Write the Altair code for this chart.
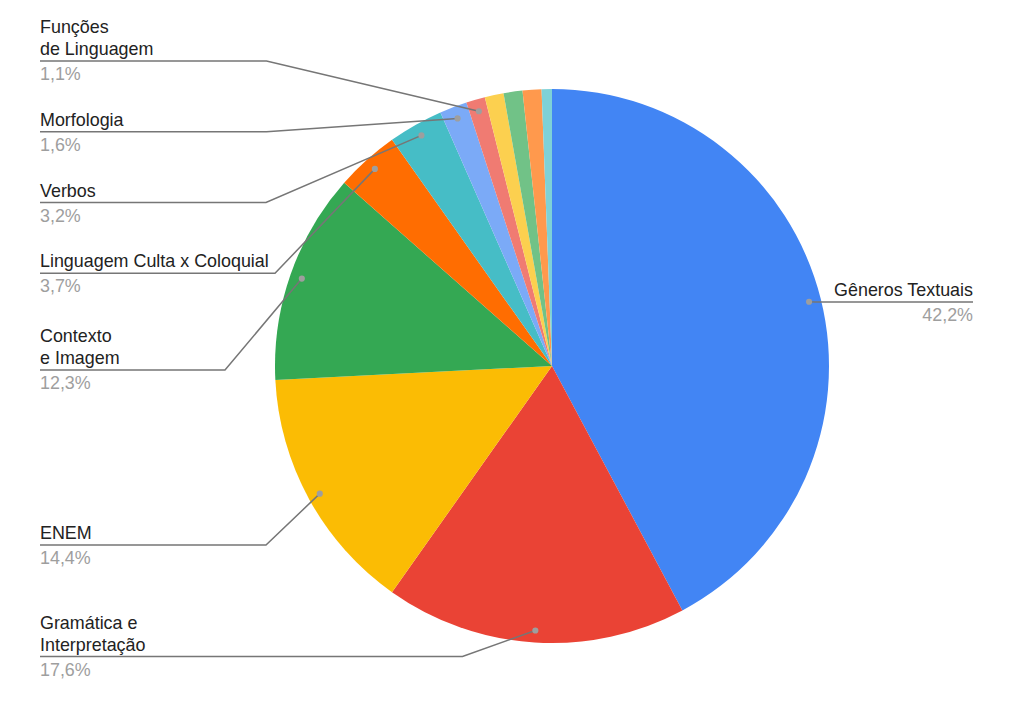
import altair as alt
import pandas as pd
import numpy as np

# ---------------- data ----------------
categories = ["Gêneros Textuais", "Gramática e Interpretação", "ENEM", "Contexto e Imagem",
              "Linguagem Culta x Coloquial", "Verbos", "Morfologia", "Funções de Linguagem",
              "Outros 1", "Outros 2", "Outros 3", "Outros 4"]
values = [42.2, 17.6, 14.4, 12.3, 3.7, 3.2, 1.6, 1.1, 1.1, 1.1, 1.1, 0.6]
colors = ["#4285F4", "#EA4335", "#FBBC04", "#34A853", "#FF6D01", "#46BDC6",
          "#7BAAF7", "#F07B72", "#FCD04F", "#71C287", "#FF994D", "#7ED1D7"]

# labels shown (first 8 slices)
label_lines = [["Gêneros Textuais"], ["Gramática e", "Interpretação"], ["ENEM"],
               ["Contexto", "e Imagem"], ["Linguagem Culta x Coloquial"], ["Verbos"],
               ["Morfologia"], ["Funções", "de Linguagem"]]

# ---------------- layout ----------------
W, H = 1007, 708
CX, CY, R = 552, 366, 277
DOT_R = 265
label_side = ["right", "left", "left", "left", "left", "left", "left", "left"]
line_y = [302, 656.5, 545, 370, 273.3, 202.5, 131.7, 61]
elbow_x = [815, 462.5, 266, 225, 275, 266, 266.5, 266.5]
end_x = [973, 40, 40, 40, 40, 40, 40, 40]
LINE_H = 22
FONT = "Liberation Sans"
FS = 17.9

# ---------------- build tables ----------------
total = sum(values)
cum = np.cumsum([0] + values[:-1])
mid = [(c + v / 2) / total * 2 * np.pi for c, v in zip(cum, values)]

pie_df = pd.DataFrame({"cat": categories, "val": values, "idx": range(len(values))})

line_rows, dot_rows, name_rows, pct_rows = [], [], [], []
for i, lines in enumerate(label_lines):
    dx = CX + DOT_R * np.sin(mid[i])
    dy = CY - DOT_R * np.cos(mid[i])
    dot_rows.append({"x": dx, "y": dy})
    line_rows += [
        {"lab": i, "o": 0, "x": dx, "y": dy},
        {"lab": i, "o": 1, "x": elbow_x[i], "y": line_y[i]},
        {"lab": i, "o": 2, "x": end_x[i], "y": line_y[i]},
    ]
    n = len(lines)
    for j, t in enumerate(lines):
        name_rows.append({"side": label_side[i], "t": t, "x": end_x[i],
                          "y": line_y[i] - 6 - (n - 1 - j) * LINE_H})
    pct = f"{values[i]:.1f}".replace(".", ",") + "%"
    pct_rows.append({"side": label_side[i], "t": pct, "x": end_x[i], "y": line_y[i] + 19})

lines_df = pd.DataFrame(line_rows)
dots_df = pd.DataFrame(dot_rows)
names_df = pd.DataFrame(name_rows)
pcts_df = pd.DataFrame(pct_rows)

xs = alt.Scale(domain=[8, 8 + W], zero=False, nice=False)
ys = alt.Scale(domain=[8, 8 + H], zero=False, nice=False, reverse=True)

def X(f="x"):
    return alt.X(f + ":Q", scale=xs, axis=None)

def Y(f="y"):
    return alt.Y(f + ":Q", scale=ys, axis=None)

pie = alt.Chart(pie_df).mark_arc(radius=R).encode(
    theta=alt.Theta("val:Q", stack=True),
    color=alt.Color("cat:N", scale=alt.Scale(domain=categories, range=colors), legend=None),
    order=alt.Order("idx:Q"),
    x=alt.value(CX - 8),
    y=alt.value(CY - 8),
)

leaders = alt.Chart(lines_df).mark_line(color="#767676", strokeWidth=1.5).encode(
    x=X(), y=Y(), detail="lab:N", order="o:Q")

dots = alt.Chart(dots_df).mark_point(filled=True, color="#9e9e9e", size=38, opacity=1).encode(
    x=X(), y=Y())

def text_layer(df, side, color):
    return alt.Chart(df[df["side"] == side]).mark_text(
        align=side, baseline="alphabetic", font=FONT, fontSize=FS, color=color
    ).encode(x=X(), y=Y(), text="t:N")

chart = alt.layer(
    pie, leaders, dots,
    text_layer(names_df, "left", "#222222"), text_layer(names_df, "right", "#222222"),
    text_layer(pcts_df, "left", "#9e9e9e"), text_layer(pcts_df, "right", "#9e9e9e"),
).properties(
    width=W, height=H, padding=0, autosize=alt.AutoSizeParams(type="none")
).configure_view(stroke=None)

chart.save("out.html", embed_options={"renderer": "svg", "actions": False})
